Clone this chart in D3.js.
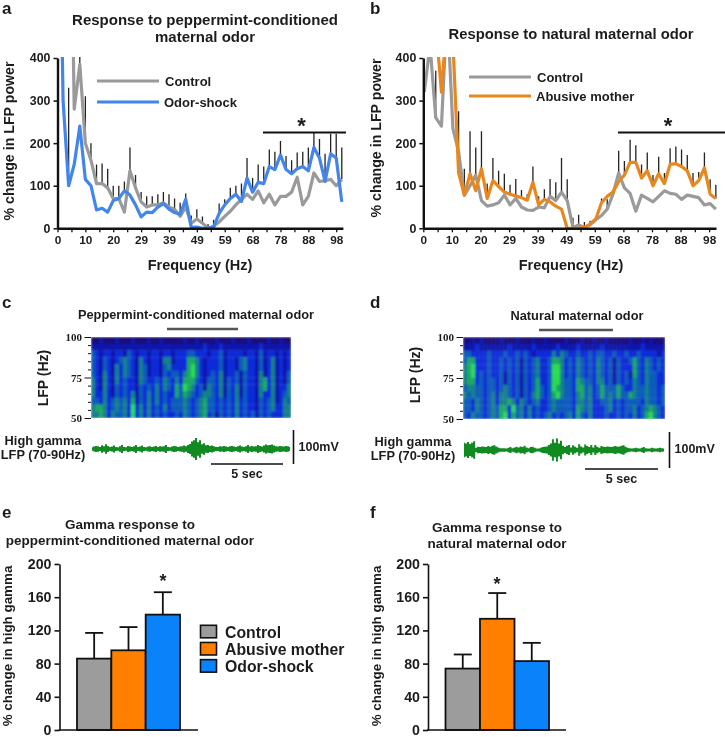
<!DOCTYPE html>
<html>
<head>
<meta charset="utf-8">
<script src="https://cdn.jsdelivr.net/npm/d3@7/dist/d3.min.js"></script>
<style>
  html, body { margin: 0; background: #fff; }
  svg { display: block; filter: blur(0.35px); }
  text { font-family: "Liberation Sans", Arial, sans-serif; font-weight: bold; fill: #1c1c1c; }
  .serif { font-family: "Liberation Serif", serif; }
</style>
</head>
<body>
<svg id="chart" width="725" height="737"></svg>
<script>
// frequency axis of the top panels (one bin is about 1.95 Hz)
const freqLabels = ['0', '10', '20', '29', '39', '49', '59', '68', '78', '88', '98'];

// panel a, % change per frequency bin
const controlA = [1100, 1100, 1100, 280, 385, 200, 160, 105, 105, 95, 70, 70, 38, 135, 95, 62, 50, 55, 55, 60, 50, 45, 28, 50, 12, 22, 12, 0, 5, 15, 28, 40, 55, 68, 80, 68, 88, 60, 80, 55, 75, 75, 85, 120, 55, 75, 130, 110, 112, 115, 100, 115];
const odorShockA = [1100, 300, 100, 150, 240, 115, 100, 43, 47, 38, 65, 70, 88, 78, 55, 27, 38, 37, 50, 58, 45, 37, 33, 68, 2, 3, 0, 0, 3, 35, 55, 70, 80, 63, 118, 85, 108, 105, 145, 138, 172, 138, 128, 140, 145, 135, 190, 165, 110, 175, 165, 62];
const errTopA = [null, null, 330, null, 420, 310, 200, 150, 152, 140, 100, 100, 110, 190, 125, 85, 75, 75, 80, 85, 80, 70, 60, 82, 30, 45, 28, 10, 20, 58, 68, 95, 100, 105, 165, 118, 150, 145, 185, 180, 205, 170, 160, 178, 180, 190, 225, 210, 175, 222, 222, 190];

// panel b
const controlB = [320, 430, 260, 240, 520, 235, 180, 78, 100, 125, 65, 52, 55, 60, 78, 55, 70, 50, 43, 42, 50, 48, 75, 65, 85, 65, 2, 8, 2, 8, 20, 30, 45, 80, 130, 95, 82, 40, 78, 70, 62, 75, 88, 82, 80, 68, 78, 75, 72, 55, 58, 45];
const abusiveB = [900, 900, 480, 320, 500, 440, 130, 78, 128, 88, 140, 70, 112, 98, 85, 80, 76, 72, 66, 108, 55, 68, 62, 52, 45, 0, 0, 0, 2, 10, 22, 60, 75, 85, 110, 125, 155, 155, 118, 135, 100, 128, 105, 150, 152, 145, 135, 100, 112, 142, 80, 70];
const errTopB = [null, null, 370, null, null, null, 275, 140, 228, 190, 228, 105, 165, 135, 128, 102, 116, 90, 80, 145, 75, 92, 116, 108, 165, 115, 25, 32, 15, 18, 28, 70, 68, 85, 182, 158, 208, 195, 150, 178, 125, 168, 130, 188, 192, 185, 172, 130, 132, 178, 115, 102];

// spectrograms, top row first, 0 = navy ... 6 = bright green
const heatC = [
  '0010001000 1000100100 0001001000 0100010001 0000100100',
  '1111111111 1111111111 1111111121 1121111111 1121111111',
  '3212212213 2122122122 1222332221 2231222212 2131221212',
  '3213212343 2142122144 1222554212 2231221342 2131241212',
  '3213214243 2143122134 2222564212 2231221342 2131241212',
  '3214214243 2143122132 3324564212 3241223132 2141241213',
  '4214214232 2143223243 2425553213 3241323132 2145241213',
  '4214213232 2132324243 2536542314 3241324132 2145241224',
  '4224213232 4132424232 2535432344 3241324132 2142241234',
  '3324234342 5132424232 3334323453 3232324232 2132341243',
  '4554234342 6242423242 3334323453 3232324232 2132342244',
  '4454243342 6242423232 2324323452 3132324232 3132322244'
];
const heatD = [
  '0010100001 0001000100 1000010001 0010010000 0100101000',
  '1112111111 1211111211 1112111121 1111211111 1111211111',
  '3322223222 3223232122 2242432232 2323322322 3223222212',
  '3552223223 2323132342 2355423243 2324323132 2353243232',
  '4562223223 2323132342 2366423243 2324323132 2253243232',
  '4562323223 1323132342 2366423243 2324323132 3153243322',
  '4552323323 1323132352 2366433254 3324423132 3243243322',
  '3443323323 4323132353 2365433255 3423533353 2243343323',
  '4343323424 4323132453 2356433245 3423534353 3543343323',
  '3324323424 4542432342 2343333244 3422334232 3333243323',
  '3324323435 5263424232 2343333254 3422234232 3342345432',
  '3243323435 6253424232 3423234253 2422232232 3242356432'
];
const heatColors = ['#1d0a78', '#0a12ac', '#0a2cd8', '#0a5cbc', '#12808a', '#1aa862', '#2cdc50'];

// high gamma envelope, half height in mV
const envelopeC = [5, 7, 9, 8, 6, 11, 8, 14, 9, 6, 7, 10, 6, 5, 8, 12, 6, 5, 9, 7, 6, 8, 12, 6, 7, 10, 6, 5, 7, 8, 6, 7, 9, 6, 8, 7, 8, 12, 6, 5, 7, 9, 8, 6, 7, 8, 10, 8, 12, 15, 22, 26, 32, 20, 26, 14, 17, 11, 12, 9, 10, 8, 6, 6, 8, 7, 9, 7, 6, 8, 9, 7, 6, 8, 10, 7, 6, 8, 12, 7, 9, 7, 8, 12, 9, 7, 10, 13, 11, 12, 13, 10, 8, 7, 9, 8, 7, 9, 8, 6];
const envelopeD = [20, 18, 22, 17, 20, 24, 6, 9, 8, 10, 9, 8, 11, 9, 12, 13, 10, 7, 5, 5, 5, 4, 6, 8, 5, 7, 9, 7, 10, 8, 12, 7, 5, 8, 9, 6, 4, 4, 6, 8, 9, 10, 14, 18, 30, 20, 32, 18, 26, 12, 8, 12, 14, 7, 13, 9, 6, 16, 10, 7, 15, 11, 8, 14, 7, 14, 9, 6, 11, 9, 8, 10, 9, 8, 10, 11, 9, 10, 12, 13, 9, 6, 5, 4, 5, 6, 5, 4, 6, 8, 5, 4, 4, 6, 5, 4, 5, 6, 5, 4];

// bar panels
const barGroups = ['Control', 'Abusive mother', 'Odor-shock'];
const barValuesE = [86, 96, 139];
const barErrorsE = [117, 124, 166];
const barValuesF = [74, 134, 83];
const barErrorsF = [91, 165, 105];
const barColors = ['#9c9c9c', '#ff7f00', '#0a82fa'];
const barTicks = [0, 40, 80, 120, 160, 200];
const gray = '#9a9a9a';
const blue = '#4285ec';
const orange = '#e8871e';

const svg = d3.select('#chart');

function label(x, y, str, size, anchor = 'middle', cls = null) {
  return svg.append('text')
    .attr('class', cls)
    .attr('x', x)
    .attr('y', y)
    .attr('font-size', size)
    .attr('text-anchor', anchor)
    .text(str);
}

function vLabel(x, y, str, size) {
  return svg.append('text')
    .attr('transform', `translate(${x},${y}) rotate(-90)`)
    .attr('font-size', size)
    .attr('text-anchor', 'middle')
    .text(str);
}

function hLine(x1, x2, y, w, color = '#111') {
  svg.append('line').attr('x1', x1).attr('x2', x2).attr('y1', y).attr('y2', y)
    .attr('stroke', color).attr('stroke-width', w);
}

function vLine(x, y1, y2, w, color = '#111') {
  svg.append('line').attr('x1', x).attr('x2', x).attr('y1', y1).attr('y2', y2)
    .attr('stroke', color).attr('stroke-width', w);
}

function styleAxis(g, domainWidth, tickWidth, fontSize) {
  g.select('.domain').attr('stroke', '#111').attr('stroke-width', domainWidth);
  g.selectAll('.tick line').attr('stroke', '#111').attr('stroke-width', tickWidth);
  g.selectAll('text').attr('font-size', fontSize);
  g.attr('font-family', null);
}

// spectrum panels a and b
function spectrum(opt) {
  const x = d3.scaleLinear().domain([0, 51.2]).range([opt.x0, opt.x1]);
  const y = d3.scaleLinear().domain([0, 400]).range([228.3, 58]);
  const px = (i) => x(i) + opt.shift;

  const clipId = `clip-${opt.id}`;
  svg.append('clipPath').attr('id', clipId).append('rect')
    .attr('x', opt.x0)
    .attr('y', 57)
    .attr('width', opt.x1 - opt.x0 + 2)
    .attr('height', 172);

  const plot = svg.append('g').attr('clip-path', `url(#${clipId})`);
  const bars = opt.errTop
    .map((top, i) => ({ top, i, a: opt.first[i], b: opt.second[i] }))
    .filter((d) => d.top !== null);

  plot.selectAll('line.err').data(bars).enter().append('line')
    .attr('class', 'err')
    .attr('x1', (d) => px(d.i))
    .attr('x2', (d) => px(d.i))
    .attr('y1', (d) => y(d.top > Math.max(d.a, d.b) ? Math.max(d.a, d.b) : Math.min(d.a, d.b)))
    .attr('y2', (d) => y(d.top))
    .attr('stroke', '#222')
    .attr('stroke-width', 1.3);

  const line = d3.line().x((d, i) => px(i)).y((d) => y(d));
  [[opt.first, gray], [opt.second, opt.color]].forEach(([values, color]) => {
    plot.append('path')
      .attr('d', line(values))
      .attr('fill', 'none')
      .attr('stroke', color)
      .attr('stroke-width', 3.2)
      .attr('stroke-linejoin', 'round');
  });

  const xAxis = d3.axisBottom(x)
    .tickValues(d3.range(0, 50.1, 2.5))
    .tickSize(4)
    .tickSizeOuter(0)
    .tickFormat((d) => (d % 5 === 0 ? freqLabels[d / 5] : ''));
  styleAxis(svg.append('g').attr('transform', 'translate(0,228.3)').call(xAxis), 2.4, 1.3, 11.8);

  const yAxis = d3.axisLeft(y).tickValues([0, 100, 200, 300, 400]).tickSize(4).tickSizeOuter(0);
  styleAxis(svg.append('g').attr('transform', `translate(${opt.x0},0)`).call(yAxis), 2.4, 1.5, 12.4);

  hLine(opt.legendX, opt.legendX + 62, opt.legendY[0], 3.2, gray);
  hLine(opt.legendX, opt.legendX + 62, opt.legendY[1], 3.2, opt.color);
  label(opt.legendX + 68, opt.legendY[0] + 4.5, 'Control', 13, 'start');
  label(opt.legendX + 67, opt.legendY[1] + 4.5, opt.legendName, 13, 'start');

  hLine(opt.sig[0], opt.sig[1], 132.5, 2);
  label((opt.sig[0] + opt.sig[1]) / 2 - opt.starShift, 133, '*', 22);
  label(opt.xLabelX, 270, 'Frequency (Hz)', 14.5);
  vLabel(opt.yLabelX, opt.yLabelY, '% change in LFP power', 14.2);
}

// spectrogram and trace panels c and d
function recording(opt) {
  const rows = opt.heat.map((r) => r.replace(/ /g, '').split('').map(Number));
  const col = d3.scaleBand().domain(d3.range(rows[0].length)).range([opt.hx0, opt.hx1]);
  const row = d3.scaleBand().domain(d3.range(rows.length)).range([opt.hy0, opt.hy1]);

  const clipId = `heat-${opt.hx0}`;
  svg.append('clipPath').attr('id', clipId).append('rect')
    .attr('x', opt.hx0)
    .attr('y', opt.hy0)
    .attr('width', opt.hx1 - opt.hx0)
    .attr('height', opt.hy1 - opt.hy0);

  const heatG = svg.append('g').attr('clip-path', `url(#${clipId})`)
    .append('g').attr('filter', 'url(#soft)');
  rows.forEach((r, j) => {
    heatG.selectAll(null).data(r).enter().append('rect')
      .attr('x', (d, i) => col(i))
      .attr('y', row(j))
      .attr('width', col.bandwidth() + 0.3)
      .attr('height', row.bandwidth() + 0.3)
      .attr('fill', (d) => heatColors[d]);
  });

  const y = d3.scaleLinear().domain([50, 100]).range([opt.hy1, opt.hy0]);
  const yAxis = d3.axisLeft(y)
    .tickValues(d3.range(50, 101, 5))
    .tickSize(3)
    .tickSizeOuter(0)
    .tickFormat((d) => (d % 25 === 0 ? d : ''));
  const axisG = svg.append('g').attr('transform', `translate(${opt.hx0},0)`).call(yAxis);
  styleAxis(axisG, 1, 1, 11);
  axisG.select('.domain').remove();
  axisG.selectAll('.tick').filter((d) => d % 25 === 0).select('line').attr('x2', -6.5);
  axisG.selectAll('.tick text').attr('class', 'serif').attr('x', -9);

  const tx = d3.scaleLinear().domain([0, opt.env.length - 1]).range([opt.hx0 + 1, opt.hx1 - 1]);
  const ty = d3.scaleLinear().domain([-100, 100]).range([opt.mid + opt.mvPx, opt.mid - opt.mvPx]);
  const area = d3.area()
    .curve(d3.curveStep)
    .x((d, i) => tx(i))
    .y0((d) => ty(-d))
    .y1((d) => ty(d));
  svg.append('path').attr('d', area(opt.env)).attr('fill', '#128a22');
  hLine(opt.hx0 + 1, opt.hx1 - 1, opt.mid, 1.5, '#128a22');

  label(opt.titleX, opt.titleY, opt.title, 12.8);
  hLine(opt.bar[0], opt.bar[1], opt.barY, 2.6, '#555');
  vLabel(opt.lfpX, opt.lfpY, 'LFP (Hz)', 14);
  label(opt.hgX, opt.hgY, 'High gamma', 12.8);
  label(opt.hgX, opt.hgY + 14, 'LFP (70-90Hz)', 12.8);
  vLine(opt.scaleX, opt.scaleY[0], opt.scaleY[1], 1.6);
  label(opt.scaleX + 5, opt.scaleY[0] + 20.5, '100mV', 12.5, 'start');
  hLine(opt.sec[0], opt.sec[1], opt.secY, 1.5);
  label((opt.sec[0] + opt.sec[1]) / 2, opt.secY + 14, '5 sec', 12.5);
}

// bar panels e and f
function gammaBars(opt) {
  const x = d3.scaleBand().domain(barGroups).range(opt.bars);
  const y = d3.scaleLinear().domain([0, 200]).range([730, 564]);

  const g = svg.append('g');
  g.selectAll('line.cap').data(barGroups).enter().append('line')
    .attr('x1', (d) => x(d) + x.bandwidth() / 2)
    .attr('x2', (d) => x(d) + x.bandwidth() / 2)
    .attr('y1', (d, i) => y(opt.values[i]))
    .attr('y2', (d, i) => y(opt.errors[i]))
    .attr('stroke', '#111')
    .attr('stroke-width', 1.8);
  g.selectAll('line.top').data(barGroups).enter().append('line')
    .attr('x1', (d) => x(d) + x.bandwidth() / 2 - 9)
    .attr('x2', (d) => x(d) + x.bandwidth() / 2 + 9)
    .attr('y1', (d, i) => y(opt.errors[i]))
    .attr('y2', (d, i) => y(opt.errors[i]))
    .attr('stroke', '#111')
    .attr('stroke-width', 1.8);
  g.selectAll('rect').data(barGroups).enter().append('rect')
    .attr('x', (d) => x(d))
    .attr('y', (d, i) => y(opt.values[i]))
    .attr('width', x.bandwidth())
    .attr('height', (d, i) => y(0) - y(opt.values[i]))
    .attr('fill', (d, i) => barColors[i])
    .attr('stroke', '#111')
    .attr('stroke-width', 1.8);

  const yAxis = d3.axisLeft(y).tickValues(barTicks).tickSize(5).tickSizeOuter(0);
  styleAxis(svg.append('g').attr('transform', `translate(${opt.x0},0)`).call(yAxis), 1.6, 1.6, 14.2);
  hLine(opt.x0 - 0.8, opt.x1, 730, 1.6);

  label(opt.titleX, opt.titleY, opt.title[0], 13.5);
  label(opt.titleX, opt.titleY + 15.5, opt.title[1], 13.5);
  vLabel(opt.yLabelX, 646, '% change in high gamma', 13.4);
  label(opt.star, opt.starY, '*', 18);
}

svg.append('defs').append('filter').attr('id', 'soft')
  .append('feGaussianBlur').attr('stdDeviation', '0.9 1.2');

[['a', 2, 14], ['b', 370, 14], ['c', 2, 308], ['d', 370, 308], ['e', 2, 518], ['f', 370, 518]]
  .forEach(([s, x, y]) => label(x, y, s, 17, 'start'));

label(205, 25, 'Response to peppermint-conditioned', 15);
label(205, 42, 'maternal odor', 15);
label(571, 39, 'Response to natural maternal odor', 14.8);

spectrum({
  id: 'a', x0: 57.5, x1: 342.9, shift: 0, first: controlA, second: odorShockA, errTop: errTopA, color: blue,
  legendX: 97, legendY: [81, 102], legendName: 'Odor-shock', sig: [263, 346], starShift: 3,
  xLabelX: 200, yLabelX: 14, yLabelY: 141
});
spectrum({
  id: 'b', x0: 423.3, x1: 716, shift: 1, first: controlB, second: abusiveB, errTop: errTopB, color: orange,
  legendX: 469, legendY: [77, 96], legendName: 'Abusive mother', sig: [618, 725], starShift: 3.5,
  xLabelX: 571, yLabelX: 381, yLabelY: 138
});

recording({
  heat: heatC, env: envelopeC, hx0: 91, hx1: 291, hy0: 337, hy1: 418, mid: 449, mvPx: 34,
  title: 'Peppermint-conditioned maternal odor', titleX: 196, titleY: 319, bar: [167, 238], barY: 329,
  lfpX: 48, lfpY: 378, hgX: 43, hgY: 445, scaleX: 293.5, scaleY: [430, 464], sec: [211, 283], secY: 464
});
recording({
  heat: heatD, env: envelopeD, hx0: 463, hx1: 665, hy0: 337, hy1: 419, mid: 450, mvPx: 36,
  title: 'Natural maternal odor', titleX: 577, titleY: 320, bar: [539, 613], barY: 330,
  lfpX: 420, lfpY: 375, hgX: 413, hgY: 446, scaleX: 669.5, scaleY: [432, 468], sec: [585, 658], secY: 469
});

gammaBars({
  bars: [77, 180], values: barValuesE, errors: barErrorsE, x0: 59.5, x1: 198,
  title: ['Gamma response to', 'peppermint-conditioned maternal odor'], titleX: 130, titleY: 529,
  yLabelX: 12, star: 163, starY: 587
});
gammaBars({
  bars: [445.5, 549], values: barValuesF, errors: barErrorsF, x0: 428, x1: 566,
  title: ['Gamma response to', 'natural maternal odor'], titleX: 497, titleY: 532,
  yLabelX: 381, star: 497, starY: 590
});

// legend shared by e and f
const legendY = d3.scaleBand().domain(barGroups).range([624.5, 676]);
svg.selectAll('rect.key').data(barGroups).enter().append('rect')
  .attr('class', 'key')
  .attr('x', 200.5)
  .attr('y', (d) => legendY(d) + 0.8)
  .attr('width', 16)
  .attr('height', 12.5)
  .attr('fill', (d, i) => barColors[i])
  .attr('stroke', '#111')
  .attr('stroke-width', 1.6);
barGroups.forEach((d) => label(225, legendY(d) + 13.5, d, 15.8, 'start'));
</script>
</body>
</html>
